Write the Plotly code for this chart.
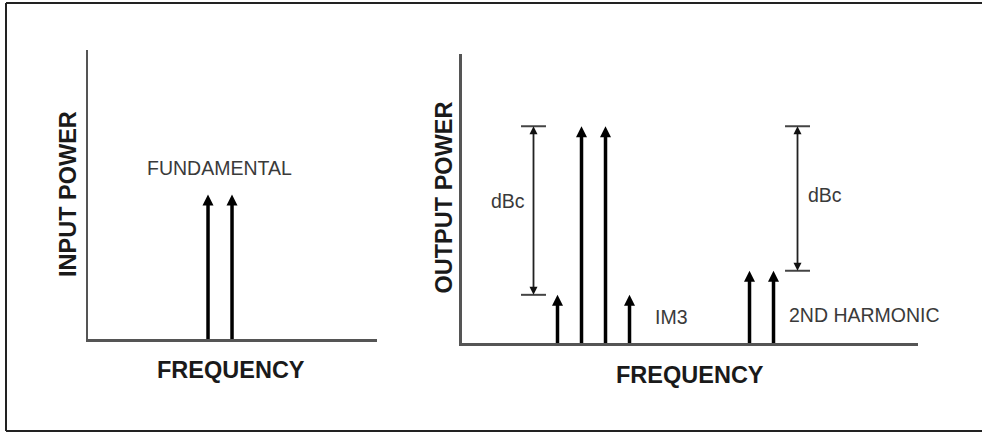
import plotly.graph_objects as go

# ---- data ----
in_freq = [5, 6]                 # fundamentals (input spectrum)
in_power = [30, 30]

out_freq = [4, 5, 6, 7, 12, 13]  # IM3, f1, f2, IM3, 2nd harmonics
out_power = [10, 45, 45, 10, 15, 15]

bracket_x = [3, 14]              # dBc measurement brackets
bracket_top = [45, 45]
bracket_bottom = [10, 15]
bracket_labels = ["dBc", "dBc"]

W, H = 982, 433
FONT = "Liberation Sans, Arial, sans-serif"
ARROW_C = "#000000"
AXIS_C = "#555555"
TEXT_C = "#3a3a3a"
BOLD_C = "#1a1a1a"


def px(x):
    return x / W


def py(y):
    return 1 - y / H


fig = go.Figure()


def add_stems(freq, power, xa, ya):
    xs, ys = [], []
    for f, p in zip(freq, power):
        xs += [f, f, None]
        ys += [0, p - 1.2, None]
    fig.add_trace(go.Scatter(x=xs, y=ys, mode="lines", xaxis=xa, yaxis=ya,
                             line=dict(color=ARROW_C, width=3.5),
                             hoverinfo="skip", showlegend=False))
    fig.add_trace(go.Scatter(x=freq, y=power, mode="markers", xaxis=xa, yaxis=ya,
                             marker=dict(symbol="arrow-up", size=11, color=ARROW_C,
                                         line=dict(width=0)),
                             hoverinfo="skip", showlegend=False))


add_stems(in_freq, in_power, "x", "y")
add_stems(out_freq, out_power, "x2", "y2")

# dBc brackets
bx, by = [], []
for x, t, b in zip(bracket_x, bracket_top, bracket_bottom):
    bx += [x, x, None]
    by += [b + 1, t - 1, None]
fig.add_trace(go.Scatter(x=bx, y=by, mode="lines", xaxis="x2", yaxis="y2",
                         line=dict(color="#222222", width=1.8),
                         hoverinfo="skip", showlegend=False))
hx, hy = [], []
for x, t, b in zip(bracket_x, bracket_top, bracket_bottom):
    hx += [x - 0.52, x + 0.52, None, x - 0.52, x + 0.52, None]
    hy += [t, t, None, b, b, None]
fig.add_trace(go.Scatter(x=hx, y=hy, mode="lines", xaxis="x2", yaxis="y2",
                         line=dict(color="#444444", width=2),
                         hoverinfo="skip", showlegend=False))
fig.add_trace(go.Scatter(x=bracket_x, y=bracket_top, mode="markers", xaxis="x2", yaxis="y2",
                         marker=dict(symbol="arrow-up", size=8, color="#111111", line=dict(width=0)),
                         hoverinfo="skip", showlegend=False))
fig.add_trace(go.Scatter(x=bracket_x, y=bracket_bottom, mode="markers", xaxis="x2", yaxis="y2",
                         marker=dict(symbol="arrow-down", size=8, color="#111111", line=dict(width=0)),
                         hoverinfo="skip", showlegend=False))

axis_common = dict(showgrid=False, zeroline=False, showticklabels=False, ticks="",
                   showline=True, linecolor=AXIS_C, linewidth=2.5, fixedrange=True)

fig.update_layout(
    width=W, height=H,
    margin=dict(l=0, r=0, t=0, b=0),
    paper_bgcolor="white", plot_bgcolor="white",
    showlegend=False,
    xaxis=dict(domain=[px(88), px(377)], range=[0, 12.04], anchor="y", **axis_common),
    yaxis=dict(domain=[py(339), py(50)], range=[0, 60], anchor="x", **axis_common),
    xaxis2=dict(domain=[px(461.5), px(918)], range=[0, 19.02], anchor="y2", **axis_common),
    yaxis2=dict(domain=[py(343), py(54)], range=[0, 60], anchor="x2", **axis_common),
)


def label(text, x, y, size, bold=False, angle=0, xanchor="center"):
    fig.add_annotation(
        text=f"<b>{text}</b>" if bold else text,
        x=px(x), y=py(y), xref="paper", yref="paper",
        showarrow=False, textangle=angle, xanchor=xanchor, yanchor="middle",
        font=dict(family=FONT, size=size, color=BOLD_C if bold else TEXT_C),
    )


label("FUNDAMENTAL", 219, 168, 19.5)
label(bracket_labels[0], 507.5, 201.5, 19.5)
label(bracket_labels[1], 825, 195, 19.5)
label("IM3", 653, 317, 19.5, xanchor="left")
label("2ND HARMONIC", 787, 315, 19.5, xanchor="left")
label("INPUT POWER", 68, 194, 23.5, bold=True, angle=-90)
label("OUTPUT POWER", 443, 197.5, 23.5, bold=True, angle=-90)
label("FREQUENCY", 231, 370, 23.5, bold=True)
label("FREQUENCY", 690, 375, 23.5, bold=True)

# frame around the figure (open on the right, as in the reference): three separate lines
for xa0, ya0, xa1, ya1 in [(px(6), py(3), 1.0, py(3)),
                           (px(6), py(431), 1.0, py(431)),
                           (px(6), py(3), px(6), py(431))]:
    fig.add_shape(type="line", xref="paper", yref="paper",
                  x0=xa0, y0=ya0, x1=xa1, y1=ya1,
                  line=dict(color="#222222", width=2), layer="above")

fig.write_html(
    "out.html",
    config={"displayModeBar": False, "staticPlot": True},
    post_script="document.body.style.margin='0';document.body.style.overflow='hidden';",
)
